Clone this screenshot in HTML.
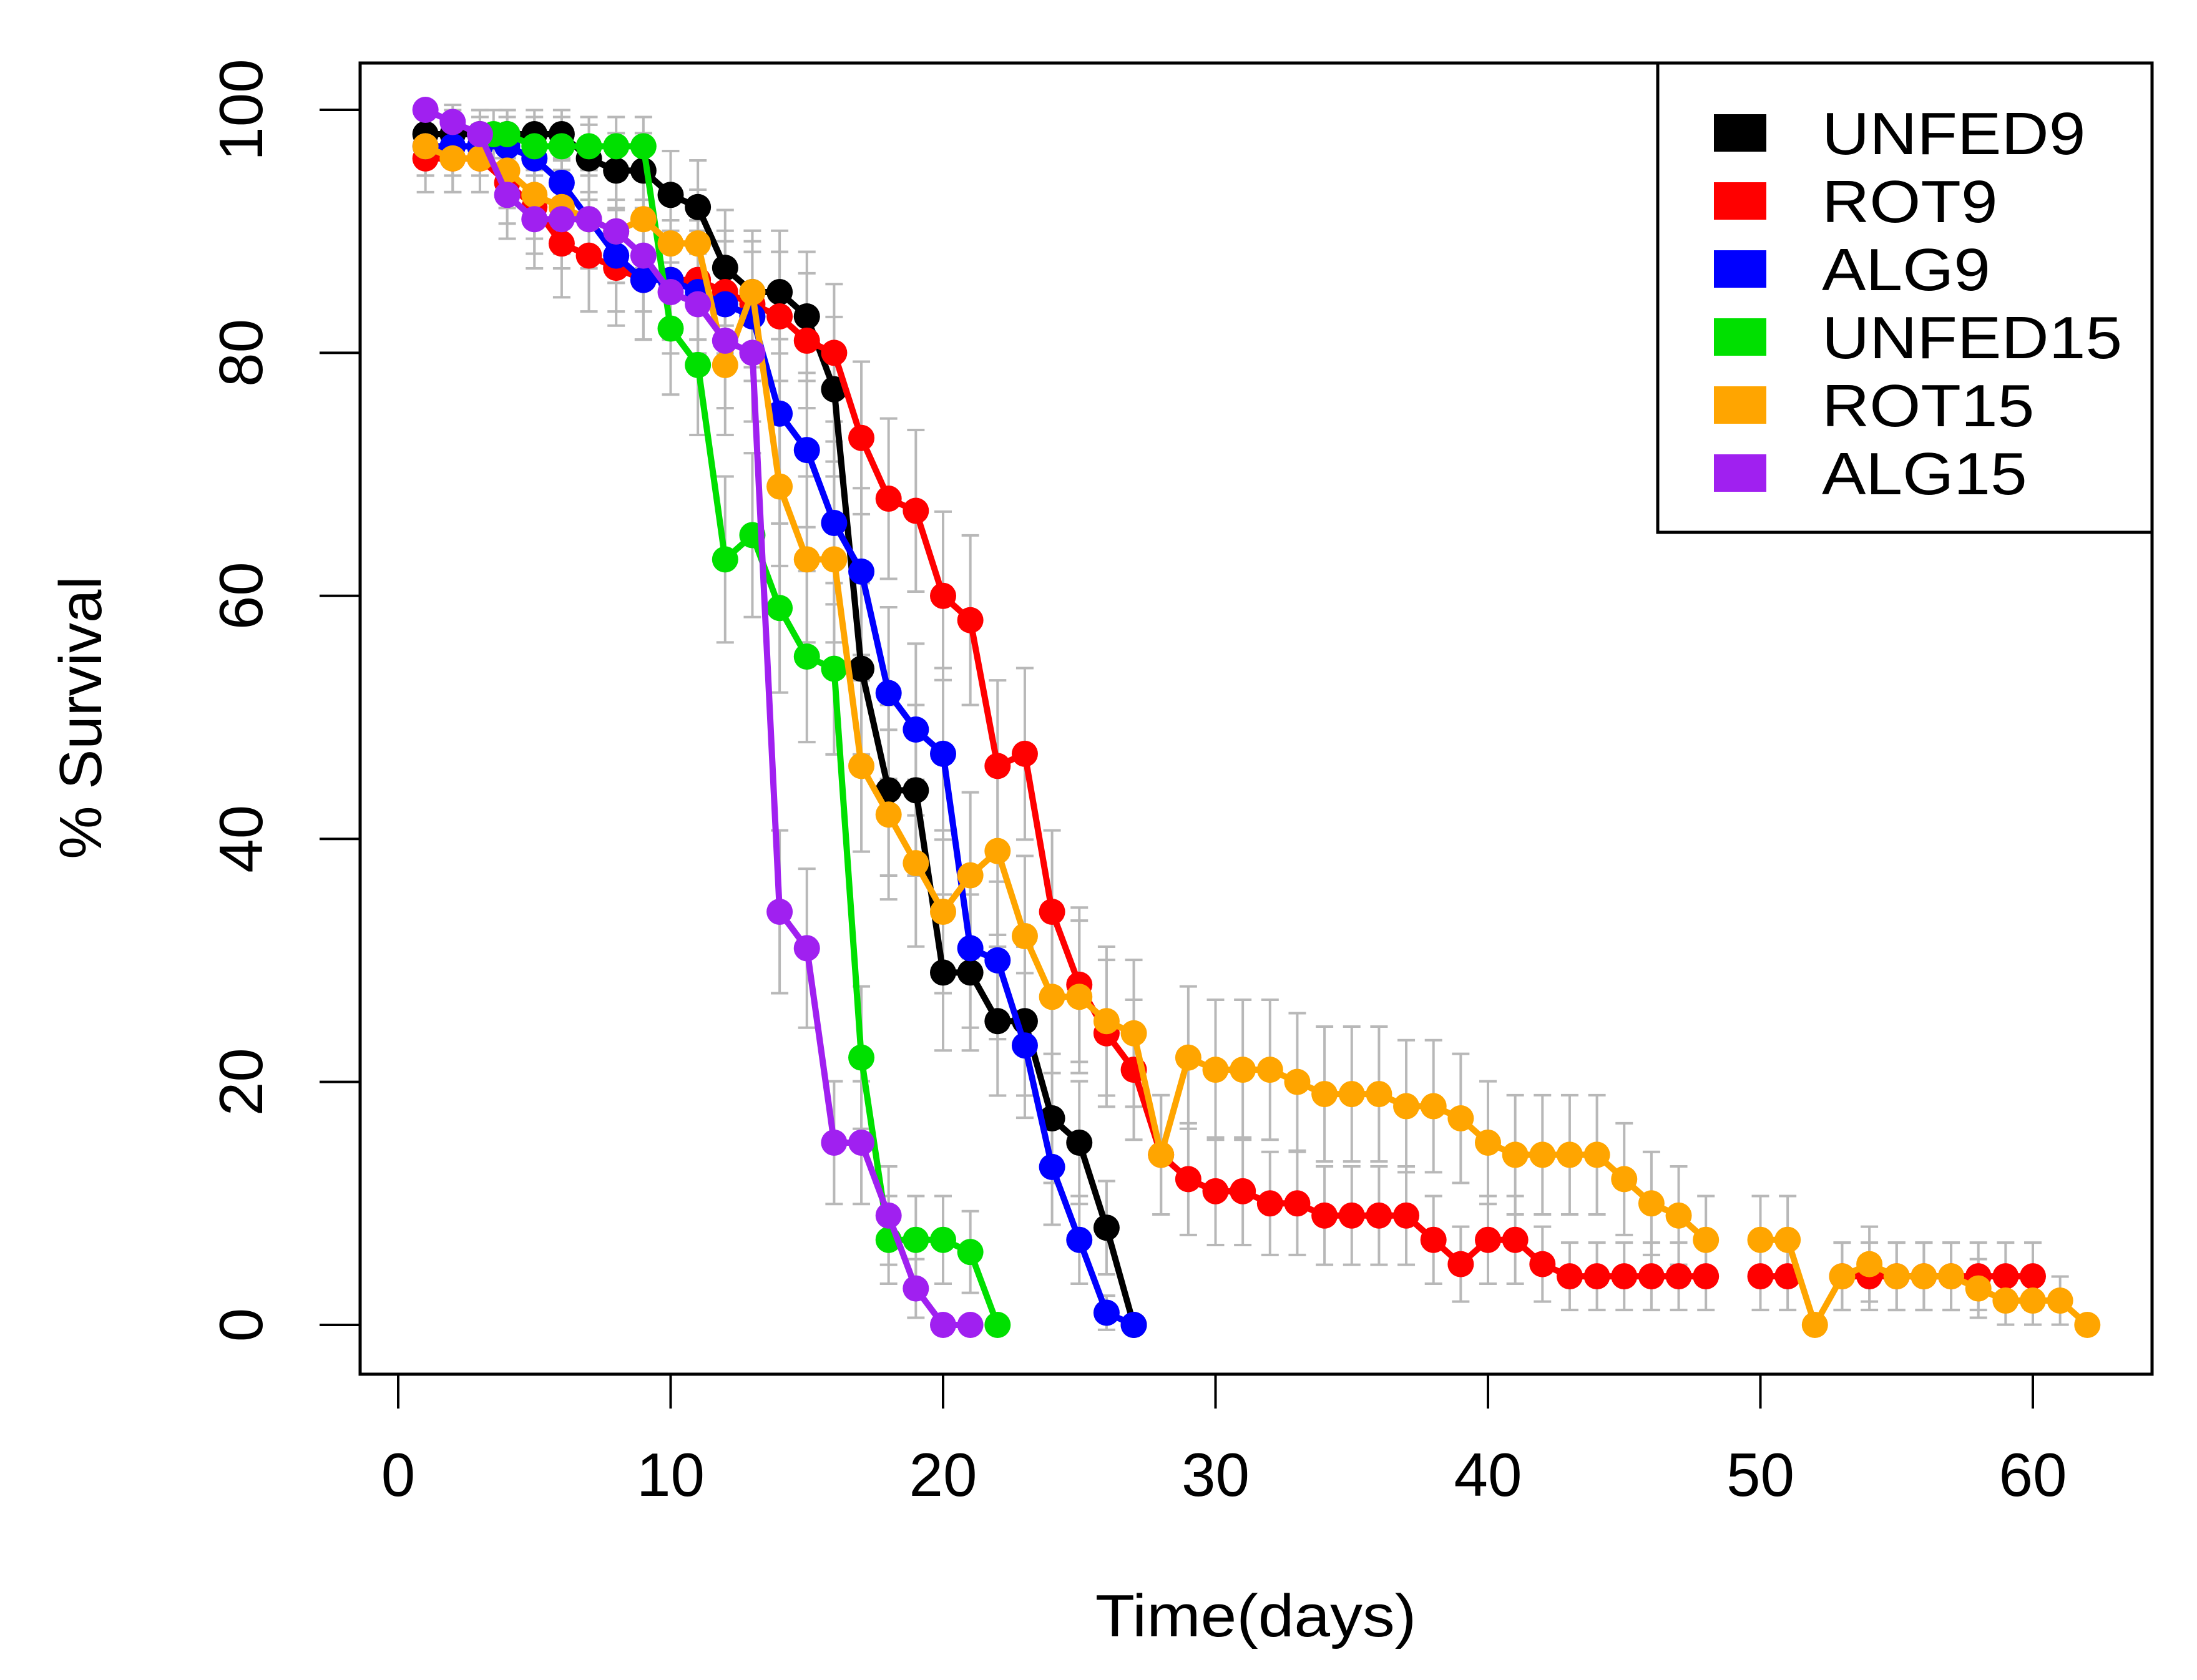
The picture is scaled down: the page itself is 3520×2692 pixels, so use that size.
<!DOCTYPE html>
<html><head><meta charset="utf-8"><style>
html,body{margin:0;padding:0;background:#fff}
svg{display:block}
text{font-family:"Liberation Sans",Arial,sans-serif}
</style></head><body>
<svg id="chart" width="3520" height="2692" viewBox="0 0 3520 2692" xmlns="http://www.w3.org/2000/svg">
<rect width="3520" height="2692" fill="#fff"/>
<g id="errs"></g>
<g id="series"></g>
<rect x="577" y="101" width="2871" height="2101" fill="none" stroke="#000" stroke-width="5"/>
<g id="xaxis"></g>
<g id="yaxis"></g>
<text x="2012" y="2622" font-size="96" text-anchor="middle" transform="translate(2012,0) scale(1.08,1) translate(-2012,0)">Time(days)</text>
<text transform="translate(162,1150) rotate(-90)" font-size="96" text-anchor="middle">% Survival</text>
<g id="legend"></g>
</svg>
<script>
const xTicks=[0,10,20,30,40,50,60];
const yTicks=[0,20,40,60,80,100];
const names=["UNFED9","ROT9","ALG9","UNFED15","ROT15","ALG15"];
const colors=["#000000","#ff0000","#0000ff","#00e000","#ffa500","#a020f0"];
const daysUnfed9=[1,2,3,4,5,6,7,8,9,10,11,12,13,14,15,16,17,18,19,20,21,22,23,24,25,26,27];
const valsUnfed9=[98,98,98,98,98,98,96,95,95,93,92,87,85,85,83,77,54,44,44,29,29,25,25,17,15,8,0];
const daysRot9=[1,2,3,4,5,6,7,8,9,10,11,12,13,14,15,16,17,18,19,20,21,22,23,24,25,26,27,28,29,30,31,32,33,34,35,36,37,38,39,40,41,42,43,44,45,46,47,48,49,50,51,52,53,54,55,56,57,58,59,60];
const valsRot9=[96,96,96,94,92,89,88,87,86,86,86,85,84,83,81,80,73,68,67,60,58,46,47,34,28,24,21,14,12,11,11,10,10,9,9,9,9,7,5,7,7,5,4,4,4,4,4,4,null,4,4,null,4,4,4,4,4,4,4,4];
const daysAlg9=[1,2,3,4,5,6,7,8,9,10,11,12,13,14,15,16,17,18,19,20,21,22,23,24,25,26,27];
const valsAlg9=[97,97,97,97,96,94,91,88,86,86,85,84,83,75,72,66,62,52,49,47,31,30,23,13,7,1,0];
const daysUnfed15=[3.5,4,5,6,7,8,9,10,11,12,13,14,15,16,17,18,19,20,21,22];
const valsUnfed15=[98,98,97,97,97,97,97,82,79,63,65,59,55,54,22,7,7,7,6,0];
const daysRot15=[1,2,3,4,5,6,7,8,9,10,11,12,13,14,15,16,17,18,19,20,21,22,23,24,25,26,27,28,29,30,31,32,33,34,35,36,37,38,39,40,41,42,43,44,45,46,47,48,49,50,51,52,53,54,55,56,57,58,59,60,61,62];
const valsRot15=[97,96,96,95,93,92,91,90,91,89,89,79,85,69,63,63,46,42,38,34,37,39,32,27,27,25,24,14,22,21,21,21,20,19,19,19,18,18,17,15,14,14,14,14,12,10,9,7,null,7,7,0,4,5,4,4,4,3,2,2,2,0];
const daysAlg15=[1,2,3,4,5,6,7,8,9,10,11,12,13,14,15,16,17,18,19,20,21];
const valsAlg15=[100,99,98,93,91,91,91,90,88,85,84,81,80,34,31,15,15,9,3,0,0];
const allDays=[daysUnfed9,daysRot9,daysAlg9,daysUnfed15,daysRot15,daysAlg15];
const allVals=[valsUnfed9,valsRot9,valsAlg9,valsUnfed15,valsRot15,valsAlg15];

const X0=638,X60=3257,Y0=2123,Y100=176;
const sx=d=>X0+(X60-X0)*d/60;
const sy=v=>Y0+(Y100-Y0)*v/100;
const NS="http://www.w3.org/2000/svg";
function mk(tag,attrs,parent){const e=document.createElementNS(NS,tag);for(const k in attrs)e.setAttribute(k,attrs[k]);parent.appendChild(e);return e;}

const xa=document.getElementById('xaxis');
xTicks.forEach(t=>{
  const l=mk('line',{x1:sx(t),x2:sx(t),y1:2202,y2:2257,stroke:'#000','stroke-width':4},xa);
  
  
  const tx=mk('text',{x:sx(t),y:2397,'font-size':98,'text-anchor':'middle'},xa);
  tx.textContent=t;
  
  
});
const ya=document.getElementById('yaxis');
yTicks.forEach(t=>{
  const l=mk('line',{x1:512,x2:577,y1:sy(t),y2:sy(t),stroke:'#000','stroke-width':4},ya);
  
  
  const tx=mk('text',{transform:`translate(420,${sy(t)}) rotate(-90)`,'font-size':98,'text-anchor':'middle'},ya);
  tx.textContent=t;
  
  
});

const eg=document.getElementById('errs');
const sg=document.getElementById('series');
allDays.forEach((days,si)=>{
  const vals=allVals[si];
  days.forEach((d,i)=>{
    const v=vals[i]; if(v===null) return;
    const p=v/100, e=Math.sqrt(p*(1-p)/50)*100;
    if(e<0.5) return;
    const x=sx(d);
    const b=mk('path',{d:`M${x},${sy(v-e)}V${sy(v+e)}M${x-14},${sy(v-e)}H${x+14}M${x-14},${sy(v+e)}H${x+14}`,stroke:'#b8b8b8','stroke-width':4,fill:'none'},eg);
    
    
  });
});
allDays.forEach((days,si)=>{
  const vals=allVals[si];
  const g=mk('g',{},sg);
  
  
  let d='',pen=false;
  days.forEach((dd,i)=>{const v=vals[i]; if(v===null){pen=false;return;} d+=(pen?'L':'M')+sx(dd)+','+sy(v); pen=true;});
  const ln=mk('path',{d:d,stroke:colors[si],'stroke-width':10,fill:'none','stroke-linejoin':'round'},g);
  
  
  days.forEach((dd,i)=>{const v=vals[i]; if(v===null) return;
    const c=mk('circle',{cx:sx(dd),cy:sy(v),r:21,fill:colors[si]},g);
    
    
  });
});

const lg=document.getElementById('legend');
const lb=mk('rect',{x:2656,y:101,width:792,height:752,fill:'#fff',stroke:'#000','stroke-width':5},lg);


names.forEach((n,i)=>{
  const cy=213+i*109;
  const r=mk('rect',{x:2746,y:cy-30,width:84,height:60,fill:colors[i]},lg);
  
  
  const t=mk('text',{x:2919,y:cy+34,'font-size':96,transform:`translate(2919,0) scale(1.1,1) translate(-2919,0)`},lg);
  t.textContent=n;
  
  
});
</script>
</body></html>
